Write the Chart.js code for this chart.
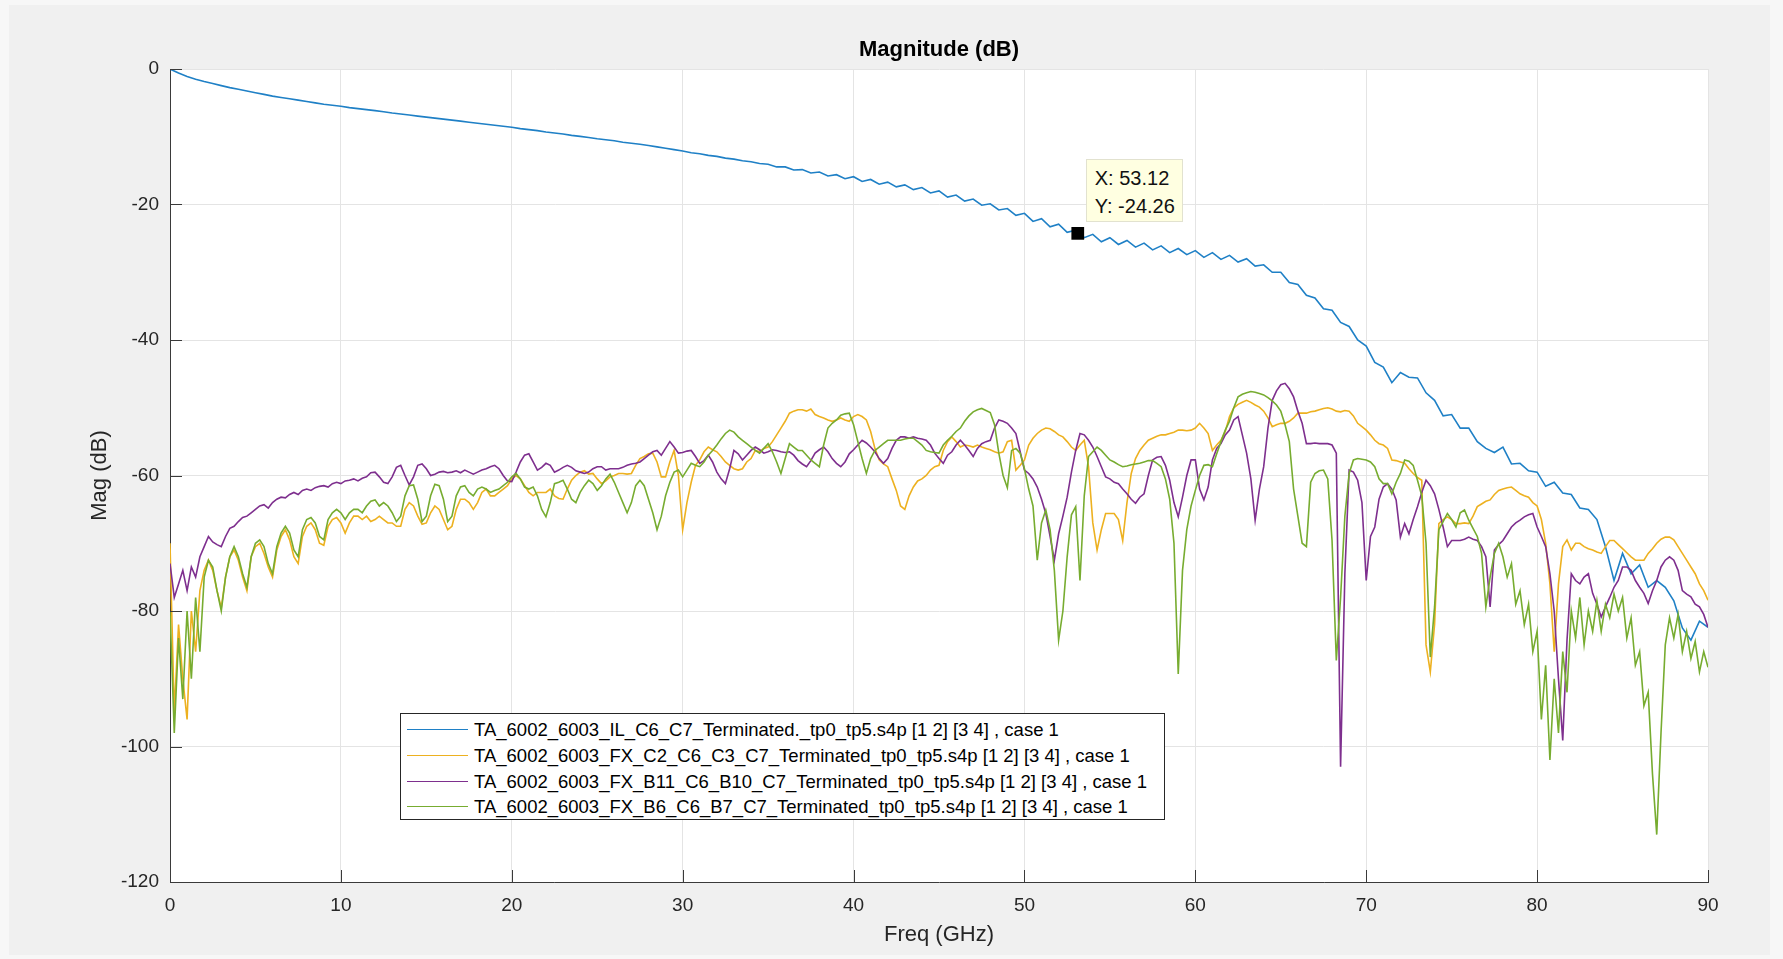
<!DOCTYPE html>
<html>
<head>
<meta charset="utf-8">
<script src="https://cdn.jsdelivr.net/npm/chart.js@4.4.1/dist/chart.umd.min.js"></script>
<style>
html,body{margin:0;padding:0;background:#f0f0f0;overflow:hidden;}
#wrap{position:relative;width:1783px;height:959px;}
#c{position:absolute;left:0;top:0;}
#legend{position:absolute;left:400px;top:713px;width:765px;height:107px;background:#fff;border:1px solid #262626;box-sizing:border-box;font-family:"Liberation Sans",Arial,sans-serif;font-size:18.5px;color:#000;}
.row{position:absolute;left:0;width:100%;height:24px;white-space:nowrap;}
.sw{position:absolute;left:6px;width:61px;top:11px;height:0;border-top:1.6px solid #000;}
.tx{position:absolute;left:73px;top:0;line-height:24px;}
#tip{position:absolute;background:#ffffe1;border:1px solid #e2e2cf;box-sizing:border-box;width:97px;height:63px;font-family:"Liberation Sans",Arial,sans-serif;font-size:20px;color:#111;}
#tip div{position:absolute;left:8px;line-height:24px;white-space:nowrap;}
</style>
</head>
<body>
<div id="wrap">
<canvas id="c" width="1783" height="959"></canvas>
<div id="legend"></div>
<div id="tip"><div id="tipx" style="top:6px"></div><div id="tipy" style="top:34px"></div></div>
</div>
<script>
// ---------------- DATA ----------------
const SERIES_NAMES = [
  "TA_6002_6003_IL_C6_C7_Terminated._tp0_tp5.s4p [1 2] [3 4] , case 1",
  "TA_6002_6003_FX_C2_C6_C3_C7_Terminated_tp0_tp5.s4p [1 2] [3 4] , case 1",
  "TA_6002_6003_FX_B11_C6_B10_C7_Terminated_tp0_tp5.s4p [1 2] [3 4] , case 1",
  "TA_6002_6003_FX_B6_C6_B7_C7_Terminated_tp0_tp5.s4p [1 2] [3 4] , case 1"
];
const X_TICKS = [0,10,20,30,40,50,60,70,80,90];
const Y_TICKS = [0,-20,-40,-60,-80,-100,-120];

// Insertion loss (blue), sampled every 0.5 GHz
const IL_STEP_GHZ = 0.5;
const IL = [
 0,-0.6,-1.1,-1.5,-1.85,-2.15,-2.45,-2.75,-3.0,-3.25,
 -3.5,-3.75,-4.0,-4.2,-4.4,-4.6,-4.8,-5.0,-5.2,-5.35,
 -5.5,-5.7,-5.85,-6.0,-6.15,-6.3,-6.5,-6.65,-6.8,-6.95,
 -7.1,-7.25,-7.4,-7.55,-7.7,-7.85,-8.0,-8.15,-8.3,-8.45,
 -8.6,-8.8,-8.95,-9.1,-9.3,-9.45,-9.6,-9.8,-9.95,-10.1,
 -10.3,-10.45,-10.6,-10.8,-10.95,-11.1,-11.3,-11.5,-11.7,-11.9,
 -12.1,-12.35,-12.5,-12.75,-12.9,-13.15,-13.3,-13.55,-13.7,-13.95,
 -14.05,-14.45,-14.45,-14.9,-14.85,-15.35,-15.2,-15.8,-15.6,-16.2,
 -15.9,-16.6,-16.3,-17.0,-16.7,-17.4,-17.1,-17.8,-17.5,-18.3,
 -18.0,-18.9,-18.6,-19.5,-19.2,-20.1,-19.9,-20.8,-20.6,-21.6,
 -21.3,-22.5,-22.1,-23.3,-22.9,-24.1,-23.8,-24.9,-24.4,-25.5,
 -24.9,-25.9,-25.3,-26.3,-25.7,-26.7,-26.1,-27.1,-26.5,-27.4,
 -26.8,-27.8,-27.1,-28.1,-27.5,-28.5,-28.0,-29.1,-28.9,-30.0,
 -30.0,-31.5,-31.8,-33.4,-33.8,-35.4,-35.6,-37.4,-38.0,-40.0,
 -40.9,-43.3,-44.0,-46.3,-44.8,-45.5,-45.6,-47.8,-48.9,-51.2,
 -51.0,-53.0,-53.0,-55.0,-56.0,-56.6,-55.8,-58.3,-58.2,-59.3,
 -59.5,-61.6,-61.0,-62.6,-62.8,-64.8,-65.0,-66.5,-70.5,-75.5,
 -71.5,-74.5,-73.2,-76.5,-75.5,-76.5,-78.5,-82.5,-84.3,-81.5,
 -82.4
];

// FEXT curves, sampled every 0.25 GHz (one row per GHz)
const FX_STEP_GHZ = 0.25;
const FX_C2C3 = [
 -70,-95,-82,-90, -96,-80,-86,-77, -74,-72.5,-74,-77, -79.5,-75,-72,-71, -72.5,-75,-77,-72,
 -70.5,-70,-71.5,-73.5, -75,-71,-69,-68, -69.5,-72,-73,-69, -67.5,-67,-68,-70, -70.3,-67.5,-66.5,-66.2,
 -67,-68.5,-67,-66, -66,-66.5,-66,-66.8, -66.5,-66,-66.5,-67, -67,-67.5,-67.5,-65, -64,-64.5,-66,-67.2,
 -67,-65.5,-64.5,-65, -66.5,-68,-67.5,-65, -63.5,-63.5,-64,-65, -64,-62.5,-62,-63, -63,-62.5,-62,-61.5,
 -60.5,-60,-60.5,-61.5, -62.5,-63,-62.5,-62.5, -62.5,-62,-63,-63.4, -63.5,-62,-60.7,-60, -59.5,-59.3,-59.8,-59.7,
 -60.5,-61.2,-60.8,-60.2, -60,-59.7,-59.7,-59.8, -59.7,-58.5,-57.5,-57.2, -56.8,-56.7,-58,-60.2, -60.2,-58,-56.3,-60,
 -68,-64,-61,-58.5, -57.7,-56.5,-55.8,-56.2, -56.5,-57.2,-58,-58.5, -59,-59.2,-59,-58, -57.5,-56.3,-56.5,-56,
 -55.8,-55,-54,-53, -52,-50.8,-50.5,-50.3, -50.3,-50.5,-50.2,-51, -51.3,-51.5,-51.8,-52, -51.8,-51.5,-51.8,-52,
 -51.3,-51,-51.3,-51.8, -53.5,-56,-57.7,-58.3, -58.7,-60.5,-62.2,-64.5, -65,-63,-61.7,-60.8, -60.5,-60,-59.2,-58.7,
 -58.5,-56.3,-55,-54.3, -55,-55.8,-55.5,-55.6, -55.8,-55.5,-55.8,-56, -56.2,-56.5,-56.7,-56.5, -55,-54.8,-59.2,-58.5,
 -57.7,-55.5,-54.5,-53.8, -53.3,-53,-53.1,-53.5, -54,-54.3,-55,-55.8, -56.3,-55.5,-54.8,-58.7, -67,-71,-68,-65.6,
 -65.6,-65.6,-66.5,-69.6, -64,-59.7,-57.5,-56.3, -55.5,-54.8,-54.5,-54.2, -54,-54,-53.8,-53.6, -53.3,-53.3,-53.4,-53.3,
 -53,-52.3,-53,-53.8, -56.3,-55.5,-54.8,-53.5, -51.3,-50,-49.5,-49.2, -48.9,-49.2,-49.6,-49.9, -50.5,-51.5,-52.8,-52.5,
 -52.3,-52.3,-52,-51.5, -50.8,-50.8,-50.8,-50.6, -50.5,-50.3,-50.1,-50, -50.2,-50.5,-50.6,-50.4, -50.5,-51.2,-52.3,-52.8,
 -53.3,-54,-54.8,-55.3, -55.5,-56,-57.7,-57.8, -58,-58.2,-59,-59.7, -60.3,-60.7,-85,-89, -82,-67.1,-66.5,-66.1,
 -66.5,-67.1,-67.1,-67, -67.1,-66,-64.6,-64.2, -63.8,-63.6,-62.8,-62.2, -62,-61.8,-61.7,-62.2, -62.7,-63,-63.2,-64,
 -64.5,-66.5,-70,-76, -86,-76,-70.5,-69.5, -71,-70,-70,-70.5, -70.8,-71,-71.3,-71.5, -70.5,-69.6,-69.6,-70.2,
 -70.8,-71.4,-72,-72.5, -72.5,-72.5,-71.5,-70.8, -70,-69.4,-69.1,-69.1, -69.5,-70.5,-71.5,-72.5, -73.5,-74.5,-76,-77,
 -78.4
];
const FX_B11B10 = [
 -73,-78,-76,-74, -77,-73.5,-75,-72, -70.5,-69,-69.8,-70.2, -70.5,-69,-67.8,-67.5, -66.8,-66.2,-66,-65.5,
 -65,-64.5,-64.3,-64.8, -64,-63.5,-63.2,-63.3, -62.8,-62.5,-62.8,-62.2, -62,-62.2,-61.8,-61.6, -61.5,-61.7,-61.2,-61,
 -61.2,-60.8,-60.7,-60.5, -60.8,-60.4,-60.2,-59.6, -59.5,-60.2,-61,-61.2, -60.2,-58.8,-58.5,-60, -61.4,-60.2,-58.5,-58.3,
 -59,-60,-59.8,-59.5, -59.4,-59.6,-59.5,-59.3, -59.6,-59.2,-59.5,-59.8, -59.5,-59.2,-59,-58.7, -58.5,-59,-60,-60.8,
 -60.9,-59.5,-58,-57, -56.8,-58,-59.2,-58.8, -58.2,-58.5,-59.5,-59.2, -58.8,-58.5,-58.8,-59.3, -59.5,-59.7,-59.5,-59,
 -58.7,-58.7,-59.2,-59, -59,-59,-58.8,-58.5, -58.3,-58.2,-58,-57.5, -57,-56.5,-56.3,-57, -56,-55,-55.8,-56.7,
 -56.6,-56.4,-56.3,-57.2, -58.2,-57.8,-57,-58, -59.5,-60.5,-61.2,-59, -56.3,-56.8,-57.7,-57, -56.3,-55.8,-56.2,-56.7,
 -56.5,-56.2,-56.3,-56.5, -56.6,-56.5,-57,-57.8, -58.3,-58.7,-57.8,-56.7, -56.2,-55.8,-56.5,-57.5, -58.2,-58.7,-58,-56.8,
 -56.2,-55.5,-54.8,-55.2, -55.8,-56.5,-57.5,-58.2, -57.5,-56,-54.8,-54.3, -54.3,-54.5,-54.3,-54.5, -54.6,-54.8,-55.5,-56.7,
 -57.5,-58.2,-57,-56.5, -55.5,-54.8,-55.5,-56.3, -57.2,-56,-55.3,-55, -54.8,-53,-51.8,-52, -52.3,-53,-53.8,-56.5,
 -59.2,-59.7,-60.5,-61.7, -63.5,-65.6,-69,-72.5, -68.6,-66,-63.2,-59.5, -56.3,-53.8,-54,-54.8, -55.8,-57.2,-58.7,-60.2,
 -60.5,-61,-61.2,-62, -62.7,-63.5,-64.1,-63.2, -62.7,-60,-57.7,-57.3, -57.2,-58.5,-60.7,-64, -66.1,-63.2,-60,-57.7,
 -57.7,-62,-63.6,-61.7, -57.7,-56,-55.3,-54, -53.3,-51.8,-51.3,-54, -56.7,-60.5,-66.6,-62, -58.7,-53,-48.9,-47.5,
 -46.6,-46.4,-47.2,-48.4, -50.5,-52.3,-55.3,-55.3, -55.2,-55.3,-55.3,-55.3, -55.5,-56.7,-103,-74.5, -59.2,-59.5,-60.7,-64,
 -75.5,-69,-67.6,-63.5, -61.7,-61.2,-62,-63.6, -69.1,-67.1,-68.6,-66.5, -64.6,-62.5,-60.7,-61.5, -62.7,-65,-67.6,-70.5,
 -69.6,-69.6,-69.6,-69.4, -69.1,-69.4,-69.6,-70.5, -72,-79.4,-71,-70.2, -69.6,-68.6,-67.6,-67, -66.6,-66.1,-65.8,-65.6,
 -67.6,-69,-70.5,-74.5, -80,-90,-99.1,-84.3, -74.5,-75.5,-76,-75, -74.5,-77.4,-79,-80.9, -79.4,-78,-76.5,-75.5,
 -73.5,-73.5,-74,-75.5, -76.5,-77.4,-78.9,-77, -75.5,-73.5,-72.5,-72, -72.5,-74,-77,-77.5, -77.9,-79,-79.4,-80.5,
 -82.4
];
const FX_B6B7 = [
 -80,-98,-84,-93, -80,-90,-78,-86, -75,-72.5,-73.5,-77, -80,-75,-72,-70.5, -72,-74.5,-76.5,-72,
 -70,-69.5,-70.5,-73, -74.5,-70.5,-68.5,-67.5, -68.5,-71,-72,-68, -66.5,-66.2,-67,-69, -69.5,-66.5,-65.5,-65,
 -65.5,-66.5,-65.5,-65, -65,-65.5,-64.5,-63.8, -63.6,-64.5,-64,-64.5, -65.5,-66.8,-66,-63, -61.5,-61.4,-63.5,-66.8,
 -66,-63,-61.3,-61.5, -63.5,-66.8,-66,-63, -61.7,-61.5,-62.5,-63, -62,-61.7,-62,-62.5, -62.2,-62,-61.5,-61,
 -60.2,-59.7,-60.5,-61.7, -62,-61.7,-63,-65, -66.1,-64,-61.2,-61, -60.7,-62,-63.5,-64, -62.5,-61.5,-60.7,-61.2,
 -62.2,-61.5,-60.5,-59.8, -61,-62.5,-64,-65.5, -64,-61.5,-60.7,-61.5, -63.5,-65.5,-68,-66, -63,-61,-59.5,-59.2,
 -60.2,-59.2,-58.2,-58.5, -58.7,-58,-57,-56.3, -55.5,-54.6,-53.8,-53.3, -53.6,-54.3,-54.8,-55.3, -55.8,-56.3,-56.7,-56,
 -55.3,-56.5,-58,-59.7, -57.5,-55.3,-55.8,-56.3, -56.3,-57,-57.7,-58.2, -58.7,-55.5,-53,-52.3, -51.8,-51.1,-50.9,-50.8,
 -52.5,-55,-57.5,-59.7, -57.5,-56.3,-55.8,-55.3, -54.8,-54.8,-54.8,-54.8, -54.6,-54.5,-54.5,-55, -55.5,-56.3,-56.5,-56.6,
 -56.7,-55.5,-54.8,-54.2, -53.5,-53,-52,-51.2, -50.6,-50.3,-50.1,-50.4, -50.7,-52.5,-56.7,-60, -61.8,-56.3,-56,-56.7,
 -59,-62,-64.5,-72.5, -67,-65.1,-68,-74, -84.3,-80,-72,-65.8, -64.6,-75.5,-63,-57.2, -56.5,-55.8,-56.3,-57,
 -57.7,-58,-58.4,-58.7, -58.6,-58.4,-58.3,-58.2, -58,-57.8,-57.8,-58.2, -58.7,-60.5,-63.5,-70, -89.3,-74,-68,-64.5,
 -62.2,-60,-58.5,-58.4, -58.7,-56.8,-55,-53.3, -52,-50,-48.4,-48, -47.8,-47.6,-47.7,-47.9, -48.1,-48.5,-49,-49.6,
 -50.5,-52.5,-55,-62, -66,-70,-70.5,-61, -59.7,-59.3,-59.2,-60.5, -69.6,-87.3,-78,-66, -59.7,-57.7,-57.5,-57.6,
 -57.7,-58,-58.7,-60.5, -61.2,-61.2,-62.7,-61, -59.7,-57.7,-57.9,-58.5, -60.7,-63,-70,-86.8, -79.4,-68,-66.8,-65.6,
 -66.5,-67.6,-65.5,-65.1, -66.6,-67.8,-69,-71.5, -79.4,-75,-71.5,-70, -72,-75,-73,-79, -77,-82,-79,-86,
 -83,-96,-88,-102, -90,-98,-86,-92, -80,-84,-78,-85, -80,-83,-78.5,-83, -79,-81,-77.5,-80,
 -78,-84,-81,-88, -86,-94,-92,-104, -113,-98,-85,-81, -84,-80.5,-86,-83, -87,-84.5,-89,-86,
 -88.3
];

// Data tip on the IL curve
const TIP_X = [53.12];
const TIP_Y = [-24.26];

const COLORS = ['#1f80c6', '#edb120', '#7e2f8e', '#77ac30'];

// --------------- BUILD ---------------
const FONT = '"Liberation Sans", Arial, Helvetica, sans-serif';
function toPoints(arr, step) { return arr.map((v, i) => ({ x: i * step, y: v })); }

const fxSeries = [FX_C2C3, FX_B11B10, FX_B6B7];
const datasets = [
  { label: SERIES_NAMES[0], data: toPoints(IL, IL_STEP_GHZ), borderColor: COLORS[0], order: 4 },
  { label: SERIES_NAMES[1], data: toPoints(fxSeries[0], FX_STEP_GHZ), borderColor: COLORS[1], order: 3 },
  { label: SERIES_NAMES[2], data: toPoints(fxSeries[1], FX_STEP_GHZ), borderColor: COLORS[2], order: 2 },
  { label: SERIES_NAMES[3], data: toPoints(fxSeries[2], FX_STEP_GHZ), borderColor: COLORS[3], order: 1 }
].map(d => Object.assign(d, { borderWidth: 1.6, pointRadius: 0, tension: 0, fill: false }));
datasets.push({
  label: 'datatip', data: TIP_X.map((x, i) => ({ x: x, y: TIP_Y[i] })),
  showLine: false, pointStyle: 'rect', pointRadius: 9, pointHoverRadius: 9,
  backgroundColor: '#000', borderColor: '#000', borderWidth: 0, order: 0
});

const bgPlugin = {
  id: 'bg',
  beforeDraw(chart) {
    const ctx = chart.ctx, a = chart.chartArea;
    ctx.save();
    ctx.fillStyle = '#f7f7f7';
    ctx.fillRect(0, 0, chart.width, chart.height);
    ctx.fillStyle = '#f0f0f0';
    ctx.fillRect(9, 5, chart.width - 22, chart.height - 9);
    ctx.fillStyle = '#ffffff';
    ctx.fillRect(a.left, a.top, a.right - a.left, a.bottom - a.top);
    ctx.restore();
  }
};
const tickPlugin = {
  id: 'inticks',
  afterDatasetsDraw(chart) {
    const ctx = chart.ctx, a = chart.chartArea, xs = chart.scales.x, ys = chart.scales.y;
    const L = 12;
    ctx.save();
    ctx.strokeStyle = '#3a3a3a';
    ctx.lineWidth = 1;
    ctx.beginPath();
    X_TICKS.forEach(t => { const p = Math.round(xs.getPixelForValue(t)) + 0.5; ctx.moveTo(p, a.bottom); ctx.lineTo(p, a.bottom - L); });
    Y_TICKS.forEach(t => { const p = Math.round(ys.getPixelForValue(t)) + 0.5; ctx.moveTo(a.left, p); ctx.lineTo(a.left + L, p); });
    ctx.stroke();
    ctx.restore();
  }
};

const chart = new Chart(document.getElementById('c'), {
  type: 'line',
  data: { datasets: datasets },
  plugins: [bgPlugin, tickPlugin],
  options: {
    responsive: false,
    animation: false,
    events: [],
    layout: { padding: { left: 75, right: 75, top: 0, bottom: 0 } },
    plugins: {
      legend: { display: false },
      tooltip: { enabled: false },
      title: {
        display: true, text: 'Magnitude (dB)', fullSize: false, color: '#000',
        font: { family: FONT, size: 22, weight: 'bold' },
        padding: { top: 37, bottom: 5.6 }
      }
    },
    scales: {
      x: {
        type: 'linear', min: 0, max: 90,
        afterBuildTicks(s) { s.ticks = X_TICKS.map(v => ({ value: v })); },
        ticks: { color: '#262626', font: { family: FONT, size: 19 }, padding: 12, maxRotation: 0, autoSkip: false },
        grid: { color: '#e4e4e4', lineWidth: 1, drawTicks: false },
        border: { display: true, color: '#3a3a3a', width: 1 },
        title: { display: true, text: 'Freq (GHz)', color: '#262626', font: { family: FONT, size: 22 }, padding: { top: 0, bottom: 11 } },
        afterFit(s) { s.height = 77; }
      },
      y: {
        type: 'linear', min: -120, max: 0,
        afterBuildTicks(s) { s.ticks = Y_TICKS.slice().reverse().map(v => ({ value: v })); },
        ticks: { color: '#262626', font: { family: FONT, size: 19 }, padding: 11, autoSkip: false },
        grid: { color: '#e4e4e4', lineWidth: 1, drawTicks: false },
        border: { display: true, color: '#3a3a3a', width: 1 },
        title: { display: true, text: 'Mag (dB)', color: '#262626', font: { family: FONT, size: 22 }, padding: { top: 12, bottom: 0 } },
        afterFit(s) { s.width = 95; }
      }
    }
  }
});

// --------------- LEGEND (HTML) ---------------
const leg = document.getElementById('legend');
const ROW_TOP = [4, 30, 56, 81];
SERIES_NAMES.forEach((name, i) => {
  const r = document.createElement('div');
  r.className = 'row';
  r.style.top = ROW_TOP[i] + 'px';
  const sw = document.createElement('div');
  sw.className = 'sw';
  sw.style.borderTopColor = COLORS[i];
  const tx = document.createElement('div');
  tx.className = 'tx';
  tx.textContent = name;
  r.appendChild(sw); r.appendChild(tx);
  leg.appendChild(r);
});

// --------------- DATA TIP (HTML) ---------------
const px = chart.scales.x.getPixelForValue(TIP_X[0]);
const py = chart.scales.y.getPixelForValue(TIP_Y[0]);
const tip = document.getElementById('tip');
tip.style.left = (px + 8) + 'px';
tip.style.top = (py - 74) + 'px';
document.getElementById('tipx').textContent = 'X: ' + TIP_X[0].toFixed(2);
document.getElementById('tipy').textContent = 'Y: ' + TIP_Y[0].toFixed(2);
</script>
</body>
</html>
